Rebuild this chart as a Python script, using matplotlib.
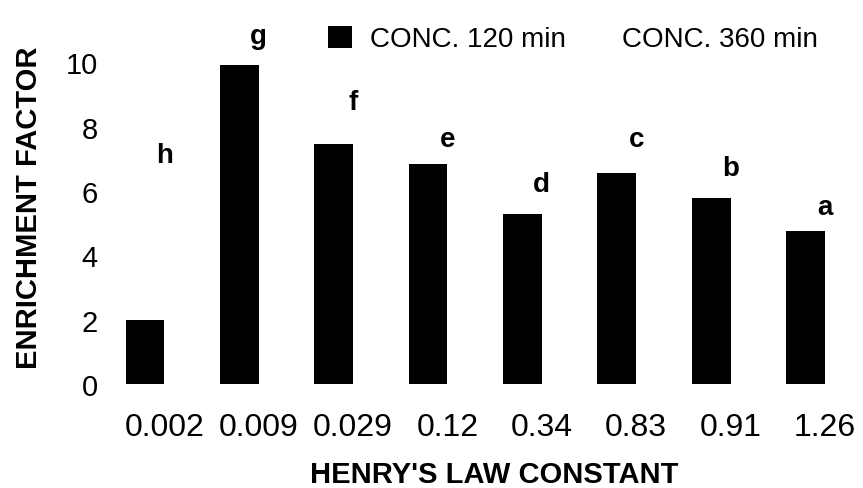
import numpy as np
import matplotlib.pyplot as plt

plt.rcParams['font.family'] = ['Liberation Sans', 'DejaVu Sans']

# Henry's law constants (categories)
henry = ["0.002", "0.009", "0.029", "0.12", "0.34", "0.83", "0.91", "1.26"]
conc_120 = [2.0, 9.9, 7.45, 6.83, 5.28, 6.55, 5.78, 4.75]
# 360 min bars are printed white in the original, values are rough guesses
conc_360 = [4.0, 8.1, 2.7, 6.9, 4.1, 4.0, 4.2, 4.0]
letters = ["h", "g", "f", "e", "d", "c", "b", "a"]
letter_y = [7.1, 10.8, 8.75, 7.6, 6.2, 7.6, 6.7, 5.5]

fig = plt.figure(figsize=(8.63, 4.89), dpi=100)
ax = fig.add_axes([0.1356, 0.2127, 0.875, 0.724])

x = np.arange(len(henry))
w = 0.41
b1 = ax.bar(x - w / 2, conc_120, w, color="black", label="CONC. 120 min")
b2 = ax.bar(x + w / 2, conc_360, w, color="white", edgecolor="none",
            label="CONC. 360 min")

for xi, lab, ly in zip(x, letters, letter_y):
    ax.text(xi, ly, lab, ha="center", va="center", fontsize=20,
            fontweight="bold")

ax.set_xlim(-0.5, len(henry) - 0.5)
ax.set_ylim(0, 11)
ax.set_yticks([0, 2, 4, 6, 8, 10])
ax.set_xticks(x)
ax.set_xticklabels(henry)
ax.tick_params(axis="both", length=0)
ax.tick_params(axis="y", pad=14, labelsize=21)
ax.tick_params(axis="x", pad=20, labelsize=23)
for s in ax.spines.values():
    s.set_visible(False)

ax.set_xlabel("HENRY'S LAW CONSTANT", fontsize=21, fontweight="bold",
              labelpad=13)
ax.set_ylabel("ENRICHMENT FACTOR", fontsize=21, fontweight="bold",
              labelpad=16)

fig.legend(handles=[b1, b2], loc="center left", ncol=2, frameon=False,
           bbox_to_anchor=(328 / 863, 1 - 40 / 489), fontsize=20,
           handlelength=0.86, handleheight=0.86, handletextpad=0.65,
           columnspacing=0.5, borderpad=0, borderaxespad=0)

fig.savefig("out.png", dpi=100)
